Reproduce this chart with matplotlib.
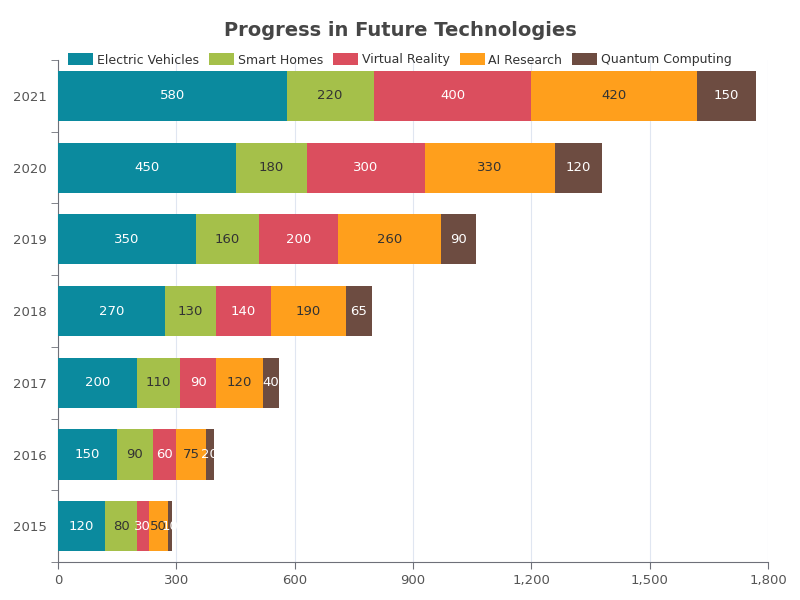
import matplotlib
matplotlib.use("Agg")
import matplotlib.pyplot as plt
import numpy as np

years = ["2015", "2016", "2017", "2018", "2019", "2020", "2021"]
series_names = ["Electric Vehicles", "Smart Homes", "Virtual Reality", "AI Research", "Quantum Computing"]
electric = [120, 150, 200, 270, 350, 450, 580]
smart = [80, 90, 110, 130, 160, 180, 220]
vr = [30, 60, 90, 140, 200, 300, 400]
ai = [50, 75, 120, 190, 260, 330, 420]
quantum = [10, 20, 40, 65, 90, 120, 150]

colors = ["#0b8a9e", "#a5c04a", "#db4e5e", "#ff9f1c", "#6d4c41"]
label_colors = ["white", "#333333", "white", "#333333", "white"]

fig = plt.figure(figsize=(8, 6), dpi=100)
ax = fig.add_axes([0.0725, 0.063, 0.8875, 0.837])
y = np.arange(len(years))
left = np.zeros(len(years))
for name, vals, c, lc in zip(series_names, [electric, smart, vr, ai, quantum], colors, label_colors):
    vals = np.array(vals, dtype=float)
    ax.barh(y, vals, left=left, height=0.7, color=c, label=name, zorder=3)
    for i, v in enumerate(vals):
        ax.text(left[i] + v / 2, i, f"{int(v)}", ha="center", va="center", fontsize=9.5, color=lc, zorder=4)
    left += vals

ax.set_xlim(0, 1800)
ax.set_ylim(-0.5, len(years) - 0.5)
ax.set_xticks(np.arange(0, 1801, 300))
ax.set_xticklabels([f"{v:,}" for v in range(0, 1801, 300)])
ax.set_yticks(y)
ax.set_yticklabels(years)
ax.set_yticks(np.arange(-0.5, len(years), 1), minor=True)
ax.tick_params(axis="y", which="major", length=0, labelsize=9.5, colors="#555555", pad=8)
ax.tick_params(axis="y", which="minor", length=5, color="#6e7079")
ax.tick_params(axis="x", length=5, color="#6e7079", labelsize=9.5, labelcolor="#555555")
ax.grid(axis="x", color="#e0e6f1", zorder=0)
for s in ["top", "right"]:
    ax.spines[s].set_visible(False)
for s in ["left", "bottom"]:
    ax.spines[s].set_color("#6e7079")

fig.suptitle("Progress in Future Technologies", y=0.965, fontsize=14, fontweight="bold", color="#464646")
fig.legend(loc="upper center", bbox_to_anchor=(0.5, 0.93), ncol=5, frameon=False, fontsize=9,
           handlelength=2.0, handleheight=1.1, columnspacing=0.8, handletextpad=0.3, labelcolor="#333333")
fig.savefig("out.png", dpi=100)
